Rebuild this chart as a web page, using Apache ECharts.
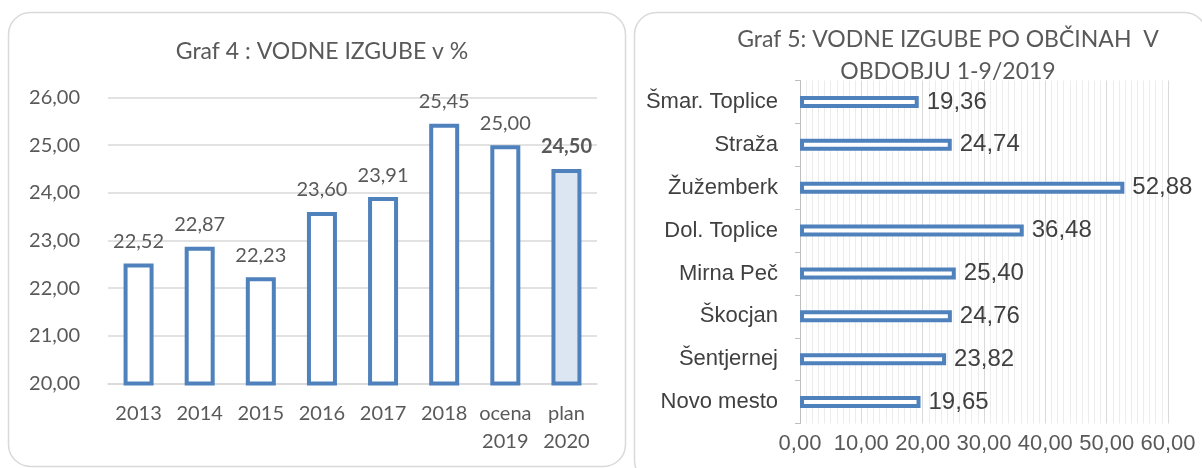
<!DOCTYPE html>
<html>
<head>
<meta charset="utf-8">
<script src="https://cdn.jsdelivr.net/npm/echarts@6/dist/echarts.min.js"></script>
<style>
  html, body { margin: 0; padding: 0; background: #fff; }
  #chart { width: 1202px; height: 468px; }
</style>
</head>
<body>
<div id="chart"></div>
<script>
// Graf 4 - water losses per year
var yearLabels = ['2013', '2014', '2015', '2016', '2017', '2018', 'ocena\n2019', 'plan\n2020'];
var yearValues = [22.52, 22.87, 22.23, 23.60, 23.91, 25.45, 25.00, 24.50];

// Graf 5 - water losses per municipality (top to bottom)
var townLabels = ['Šmar. Toplice', 'Straža', 'Žužemberk', 'Dol. Toplice', 'Mirna Peč', 'Škocjan', 'Šentjernej', 'Novo mesto'];
var townValues = [19.36, 24.74, 52.88, 36.48, 25.40, 24.76, 23.82, 19.65];

var blue = '#4f81bd';
var grey = '#595959';
var calibriLike = 'Lato, "Open Sans", sans-serif';
var arialLike = '"Liberation Sans", Arial, sans-serif';

function comma(v) {
    return Number(v).toFixed(2).replace('.', ',');
}

var yearData = yearValues.map(function (v, i) {
    var last = i == yearValues.length - 1;
    return {
        value: v,
        itemStyle: { color: last ? '#dce6f2' : '#fff' },
        label: { fontWeight: last ? 'bold' : 'normal' }
    };
});

var option = {
    animation: false,
    textStyle: { fontFamily: calibriLike },
    graphic: [
        { type: 'rect', shape: { x: 8.5, y: 12.5, width: 617, height: 454, r: 22 },
          style: { fill: 'none', stroke: '#d9d9d9', lineWidth: 1.5 }, silent: true },
        { type: 'rect', shape: { x: 634.5, y: 12.5, width: 572, height: 470, r: 22 },
          style: { fill: 'none', stroke: '#d9d9d9', lineWidth: 1.5 }, silent: true }
    ],
    title: [
        {
            text: 'Graf 4 : VODNE IZGUBE v %',
            left: 317, top: 35, textAlign: 'center',
            textStyle: { fontFamily: calibriLike, fontSize: 23, fontWeight: 'normal', color: grey }
        },
        {
            text: 'Graf 5: VODNE IZGUBE PO OBČINAH  V\nOBDOBJU 1-9/2019',
            left: 943, top: 19, textAlign: 'center',
            textStyle: { fontFamily: calibriLike, fontSize: 23, fontWeight: 'normal', color: grey, lineHeight: 32 }
        }
    ],
    grid: [
        { left: 108, top: 97.5, width: 489, height: 286 },
        { left: 800, top: 80.5, width: 368, height: 343 }
    ],
    xAxis: [
        {
            gridIndex: 0, type: 'category', data: yearLabels,
            axisLine: { lineStyle: { color: '#d9d9d9', width: 1.5 } },
            axisTick: { show: false },
            axisLabel: { interval: 0, color: grey, fontSize: 20, lineHeight: 28, margin: 16, fontFamily: calibriLike }
        },
        {
            gridIndex: 1, type: 'value', min: 0, max: 60, interval: 10,
            axisLine: { show: false },
            axisTick: { show: false },
            axisLabel: { color: grey, fontSize: 22, margin: 9, fontFamily: arialLike, formatter: comma },
            splitLine: { lineStyle: { color: '#d9d9d9', width: 1 } },
            minorTick: { show: false, splitNumber: 10 },
            minorSplitLine: { show: true, lineStyle: { color: '#ececec', width: 1 } }
        }
    ],
    yAxis: [
        {
            gridIndex: 0, type: 'value', min: 20, max: 26, interval: 1,
            axisLine: { show: false },
            axisTick: { show: false },
            axisLabel: { color: grey, fontSize: 20, margin: 28, fontFamily: calibriLike, formatter: comma },
            splitLine: { lineStyle: { color: '#d9d9d9', width: 1.5 } }
        },
        {
            gridIndex: 1, type: 'category', data: townLabels, inverse: true,
            axisLine: { show: true, lineStyle: { color: '#bfbfbf', width: 1 } },
            axisTick: { show: true, length: 5, lineStyle: { color: '#bfbfbf' } },
            axisLabel: { interval: 0, color: '#404040', fontSize: 22, margin: 22, fontFamily: arialLike }
        }
    ],
    series: [
        {
            type: 'bar', xAxisIndex: 0, yAxisIndex: 0,
            data: yearData,
            barWidth: 30,
            itemStyle: { borderColor: blue, borderWidth: 4 },
            label: {
                show: true, position: 'top', distance: 12,
                color: grey, fontSize: 20, fontFamily: calibriLike,
                formatter: function (p) { return comma(p.value); }
            }
        },
        {
            type: 'bar', xAxisIndex: 1, yAxisIndex: 1,
            data: townValues,
            barWidth: 12,
            itemStyle: { color: '#fff', borderColor: blue, borderWidth: 4 },
            label: {
                show: true, position: 'right', distance: 8,
                color: '#404040', fontSize: 24, fontFamily: arialLike,
                formatter: function (p) { return comma(p.value); }
            }
        }
    ]
};

var chart = echarts.init(document.getElementById('chart'), null, { renderer: 'canvas' });
chart.setOption(option);
</script>
</body>
</html>
